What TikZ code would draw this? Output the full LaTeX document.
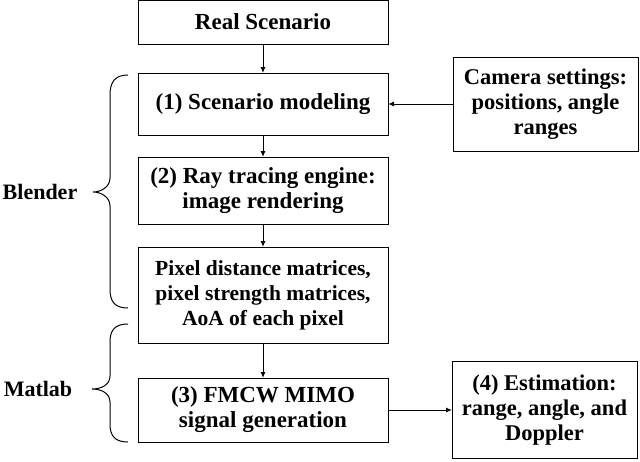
\documentclass[tikz,border=0pt]{standalone}
\usepackage{fontspec}
\setmainfont{Liberation Serif}
\usepackage{tikz}
\usetikzlibrary{arrows.meta, positioning}

\begin{document}
\begin{tikzpicture}[
    x=1pt, y=1pt,
    node distance=25pt and 64pt,
    box/.style={rectangle, draw=black, line width=1pt, outer sep=0pt, inner sep=3pt, align=center, minimum width=250pt, font=\fontsize{23}{25}\selectfont\bfseries},
    sidebox/.style={box, minimum width=185pt, font=\fontsize{22.5}{25}\selectfont\bfseries},
    tool/.style={font=\fontsize{22}{25}\selectfont\bfseries},
    line/.style={draw=black, line width=1pt, -{Latex[length=6pt, width=5pt]}},
    curly/.style={draw=black, line width=1pt}
]
\useasboundingbox (0,0) rectangle (640,-461);

% Nodes
\node[box, minimum height=44pt] (real) at (263,-22) {Real Scenario};
\node[box, minimum height=62pt, below=29pt of real] (model) {(1) Scenario modeling};
\node[box, minimum height=67pt, below=22pt of model] (ray) {(2) Ray tracing engine:\\ image rendering};
\node[box, minimum height=96pt, below=23pt of ray, font=\fontsize{21.5}{25}\selectfont\bfseries] (pixel) {Pixel distance matrices,\\ pixel strength matrices,\\ AoA of each pixel};
\node[box, minimum height=64pt, below=35pt of pixel] (fmcw) {(3) FMCW MIMO\\ signal generation};

\node[sidebox, minimum height=94pt, right=65pt of model] (camera) {Camera settings:\\ positions, angle\\ ranges};
\node[sidebox, minimum height=97pt, right=64pt of fmcw] (estim) {(4) Estimation:\\ range, angle, and\\ Doppler};

% Braces
\draw[curly] (128,-75) .. controls (115,-75) and (110,-82) .. (110,-95) -- (110,-178)
    .. controls (110,-187) and (101,-192) .. (93,-192)
    .. controls (101,-192) and (110,-197) .. (110,-206) -- (110,-289)
    .. controls (110,-302) and (115,-308) .. (128,-308);
\draw[curly] (128,-324) .. controls (115,-324) and (110,-330) .. (110,-342) -- (110,-376)
    .. controls (110,-385) and (101,-389) .. (92,-389)
    .. controls (101,-389) and (110,-393) .. (110,-402) -- (110,-424)
    .. controls (110,-436) and (115,-442) .. (128,-442);
\node[tool] (blender) at (40,-192) {Blender};
\node[tool] (matlab) at (38,-389) {Matlab};

% Arrows
\draw[line] (real) -- (model);
\draw[line] (model) -- (ray);
\draw[line] (ray) -- (pixel);
\draw[line] (pixel) -- (fmcw);
\draw[line] (camera) -- (model);
\draw[line] (fmcw) -- (estim);

\end{tikzpicture}
\end{document}
